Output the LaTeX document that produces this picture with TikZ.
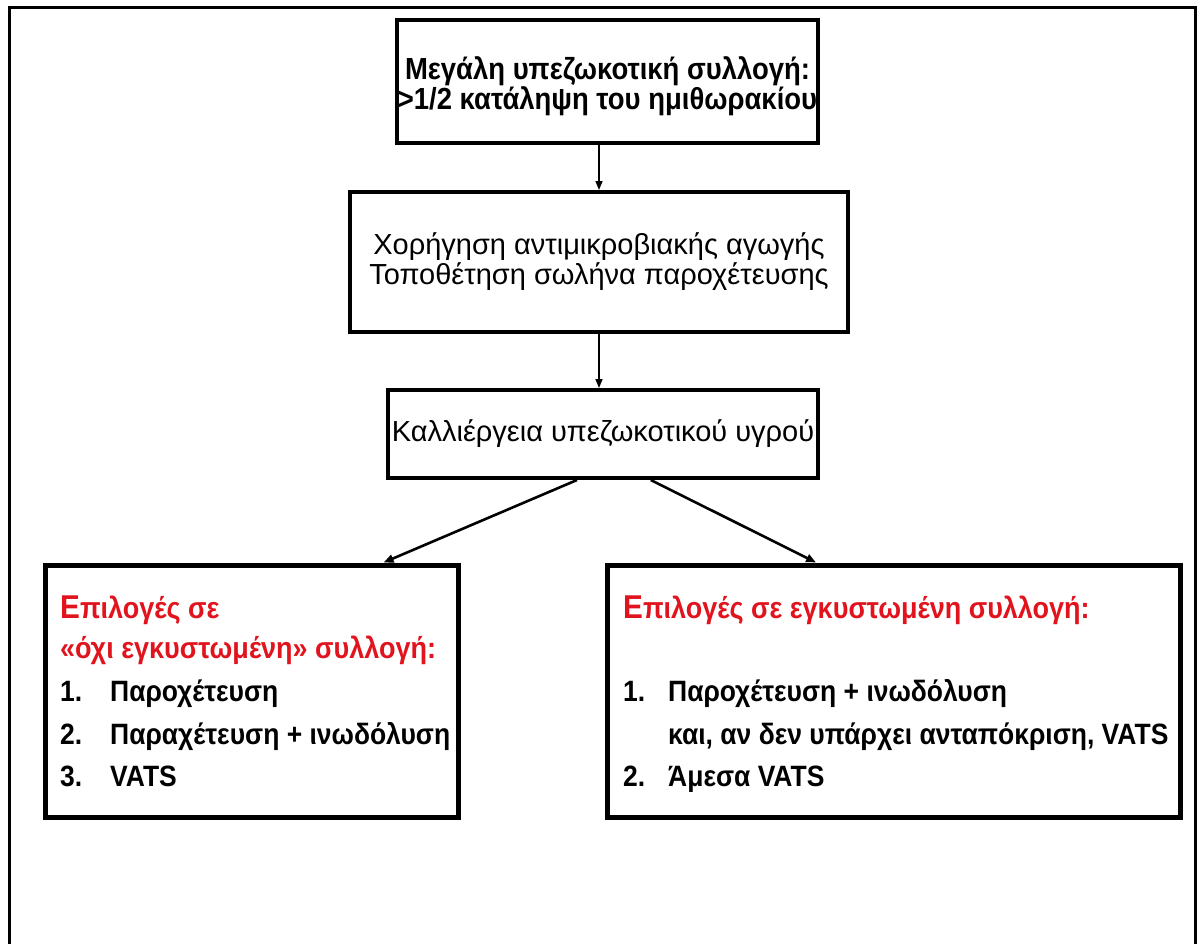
\documentclass[tikz,border=0pt]{standalone}
\usepackage{fontspec}
\setmainfont{Liberation Sans}
\newfontfamily\narrowfont[FakeStretch=0.9]{Liberation Sans}
\usetikzlibrary{arrows.meta,calc}
\definecolor{redtxt}{RGB}{225,20,30}
\begin{document}
\begin{tikzpicture}[x=1pt,y=-1pt,
  box/.style={draw, line width=4pt, inner sep=0pt, align=center},
  bigbox/.style={draw, line width=5pt, inner sep=0pt},
  arr/.style={-{Triangle[length=9pt,width=7pt]}, line width=1.6pt},
  darr/.style={-{Triangle[length=10pt,width=8pt]}, line width=2.6pt},
  bt/.style={inner sep=0pt, align=center, font=\narrowfont\fontsize{30.5}{28.5}\selectfont\bfseries},
  rt/.style={font=\fontsize{29}{30}\selectfont},
  lt/.style={anchor=base west, inner sep=0pt, font=\narrowfont\fontsize{29.4}{28}\selectfont\bfseries},
  tt/.style={anchor=base west, inner sep=0pt, text=redtxt, font=\narrowfont\fontsize{30}{28}\selectfont\bfseries}]
\useasboundingbox (0,0) rectangle (1197,943);
\draw[line width=3pt] (9,960) -- (9,7) -- (1195,7) -- (1195,960);

\node[box, minimum width=421pt, minimum height=123pt] (b1) at (607.5,81.5) {};
\node[bt] (t1) at (607.5,86)
  {Μεγάλη υπεζωκοτική συλλογή:\\>1/2 κατάληψη του ημιθωρακίου};
\node[box, rt, minimum width=498pt, minimum height=140pt] (b2) at (599,262)
  {Χορήγηση αντιμικροβιακής αγωγής\\Τοποθέτηση σωλήνα παροχέτευσης};
\node[box, rt, minimum width=430pt, minimum height=88pt] (b3) at (603,434)
  {Καλλιέργεια υπεζωκοτικού υγρού};
\node[bigbox, minimum width=413pt, minimum height=252pt] (lb) at (251.5,691) {};
\node[bigbox, minimum width=573pt, minimum height=252pt] (rb) at (893.5,691) {};

% left box text
\node[tt] (l1) at (60,618) {{\fontsize{33}{28}\selectfont Ε}πιλογές σε};
\node[tt] (l2) at (60,658) {«όχι εγκυστωμένη» συλλογή:};
\node[lt] (l3n) at (60,701) {1.};
\node[lt] (l3) at (110,701) {Παροχέτευση};
\node[lt] (l4n) at (60,744) {2.};
\node[lt] (l4) at (110,744) {Παραχέτευση + ινωδόλυση};
\node[lt] (l5n) at (60,786) {3.};
\node[lt] (l5) at (110,786) {VATS};

% right box text
\node[tt] (r1) at (623,618) {{\fontsize{33}{28}\selectfont Ε}πιλογές σε εγκυστωμένη συλλογή:};
\node[lt] (r2n) at (623,701) {1.};
\node[lt] (r2) at (668,701) {Παροχέτευση + ινωδόλυση};
\node[lt] (r3) at (668,744) {και, αν δεν υπάρχει ανταπόκριση, VATS};
\node[lt] (r4n) at (623,786) {2.};
\node[lt] (r4) at (668,786) {Άμεσα VATS};

\draw[arr] (b2.north |- b1.south) -- (b2.north);
\draw[arr] (b2.south) -- (b2.south |- b3.north);
\draw[darr] ($(b3.south west)!0.44!(b3.south east)$) -- ($(lb.north west)!0.816!(lb.north east)$);
\draw[darr] ($(b3.south west)!0.61!(b3.south east)$) -- ($(rb.north west)!0.366!(rb.north east)$);
\end{tikzpicture}
\end{document}
